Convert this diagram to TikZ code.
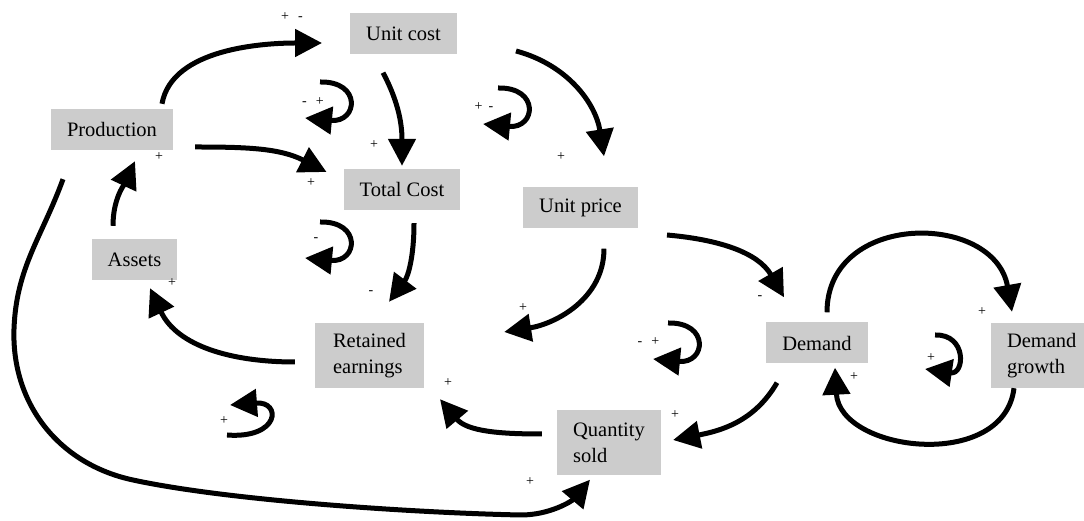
\documentclass[tikz,border=0pt]{standalone}
\usepackage{fontspec}
\setmainfont{Liberation Serif}
\usetikzlibrary{arrows.meta}

\begin{document}
\begin{tikzpicture}[%
        x=1pt, y=1pt,
        box/.style={fill=black!20, inner xsep=16pt, inner ysep=0pt, minimum height=41pt, align=left, font=\fontsize{20.5}{26.5}\selectfont},
        sign/.style={inner sep=0pt, font=\fontsize{14}{16}\selectfont},
        link/.style={line width=5pt, -{Triangle[length=27pt,width=27pt]}}
      ]
      \useasboundingbox (0,0) rectangle (1084,521);
      \node [box] (ucost) at (403.5,487) {Unit cost};
      \node [box] (prod) at (112,391.5) {Production};
      \node [box] (tcost) at (402,331.5) {Total Cost};
      \node [box] (uprice) at (580.5,313) {Unit price};
      \node [box] (assets) at (134.5,261.5) {Assets};
      \node [box, minimum width=109pt, minimum height=65pt] (retained) at (369.5,165.5) {Retained\\earnings};
      \node [box, minimum height=65pt] (qsold) at (609,78) {Quantity\\sold};
      \node [box] (demand) at (817,178) {Demand};
      \node [box, minimum height=65pt] (dgrowth) at (1041.75,165.5) {Demand\\growth};
      \path ([shift={(50,5)}]prod.north) edge[link, out=80, in=180, looseness=0.85] ([shift={(-28,-9)}]ucost.west)
      ([shift={(22,-17.5)}]prod.east) edge[link, out=0, in=153] ([shift={(-17,17.5)}]tcost.west)
      ([shift={(-20.5,-18)}]ucost.south) edge[link, out=-62, in=90] ([shift={(0,3)}]tcost.north)
      ([shift={(59,-17)}]ucost.east) edge[link, out=-15, in=99] ([shift={(23.5,31)}]uprice.north)
      ([shift={(12,-13)}]tcost.south) edge[link, out=-90, in=53] ([shift={(19.5,21)}]retained.north)
      ([shift={(23.5,-20)}]uprice.south) edge[link, out=-90, in=9] ([shift={(80,23.5)}]retained.east)
      ([shift={(29,-27)}]uprice.east) edge[link, out=-5, in=120] ([shift={(-33,25)}]demand.north)
      ([shift={(-20,-6.5)}]retained.west) edge[link, out=180, in=-65] ([shift={(15.5,-8)}]assets.south)
      ([shift={(-21.5,13)}]assets.north) edge[link, out=90, in=-115] ([shift={(23,-11)}]prod.south)
      ([shift={(-15,9)}]qsold.west) edge[link, out=180, in=-50] ([shift={(70.5,-11)}]retained.south)
      ([shift={(-40,-19)}]demand.south) edge[link, out=-120, in=11] ([shift={(12,3)}]qsold.east)
      ([shift={(10,10)}]demand.north) edge[link, out=90, in=100, looseness=1.4] ([shift={(-29.75,11)}]dgrowth.north)
      ([shift={(-27.75,0)}]dgrowth.south) edge[link, out=-97, in=-87, looseness=1.2] ([shift={(18,-4)}]demand.south);
      % long way round from production to quantity sold
      \draw[link] ([shift={(-49,-29)}]prod.south) to[out=-110, in=88] (14,192) to[out=-92, in=168] (133,41)
      .. controls (230,20) and (420,8) .. (521,6) .. controls (550,6) and (572,20) .. ([shift={(-19,-4)}]qsold.south);
      % small loop marks
      \foreach \x/\y in {320/439, 498/433, 320/299, 668/198}
        \draw[link, shift={(\x,\y)}] (0,0) .. controls (42,1) and (38,-41) .. (-15,-36);
      \draw[link, shift={(935,186)}] (0,0) .. controls (32,1) and (30,-40) .. (-10,-34);
      \draw[link, shift={(227,86)}] (0,0) .. controls (53,-4) and (55,34) .. (3,30);
      % signs
      \foreach \x/\y/\t [count=\i] in {292/504/+\hspace{9pt}-, 313/419/-\hspace{9pt}+, 159/364/+, 311/338/+,
          374/376/+, 484/414/+\hspace{6pt}-, 561/364/+, 316/281/-, 172/238/+, 224/100/+, 371/228/-,
          523/213/+, 648.5/179/-\hspace{9pt}+, 448/138/+, 675/106/+, 530/39/+, 760/223/-, 982/209/+,
          931/163/+, 854/144/+}
        \node [sign] (s\i) at (\x,\y) {\t};
\end{tikzpicture}
\end{document}
